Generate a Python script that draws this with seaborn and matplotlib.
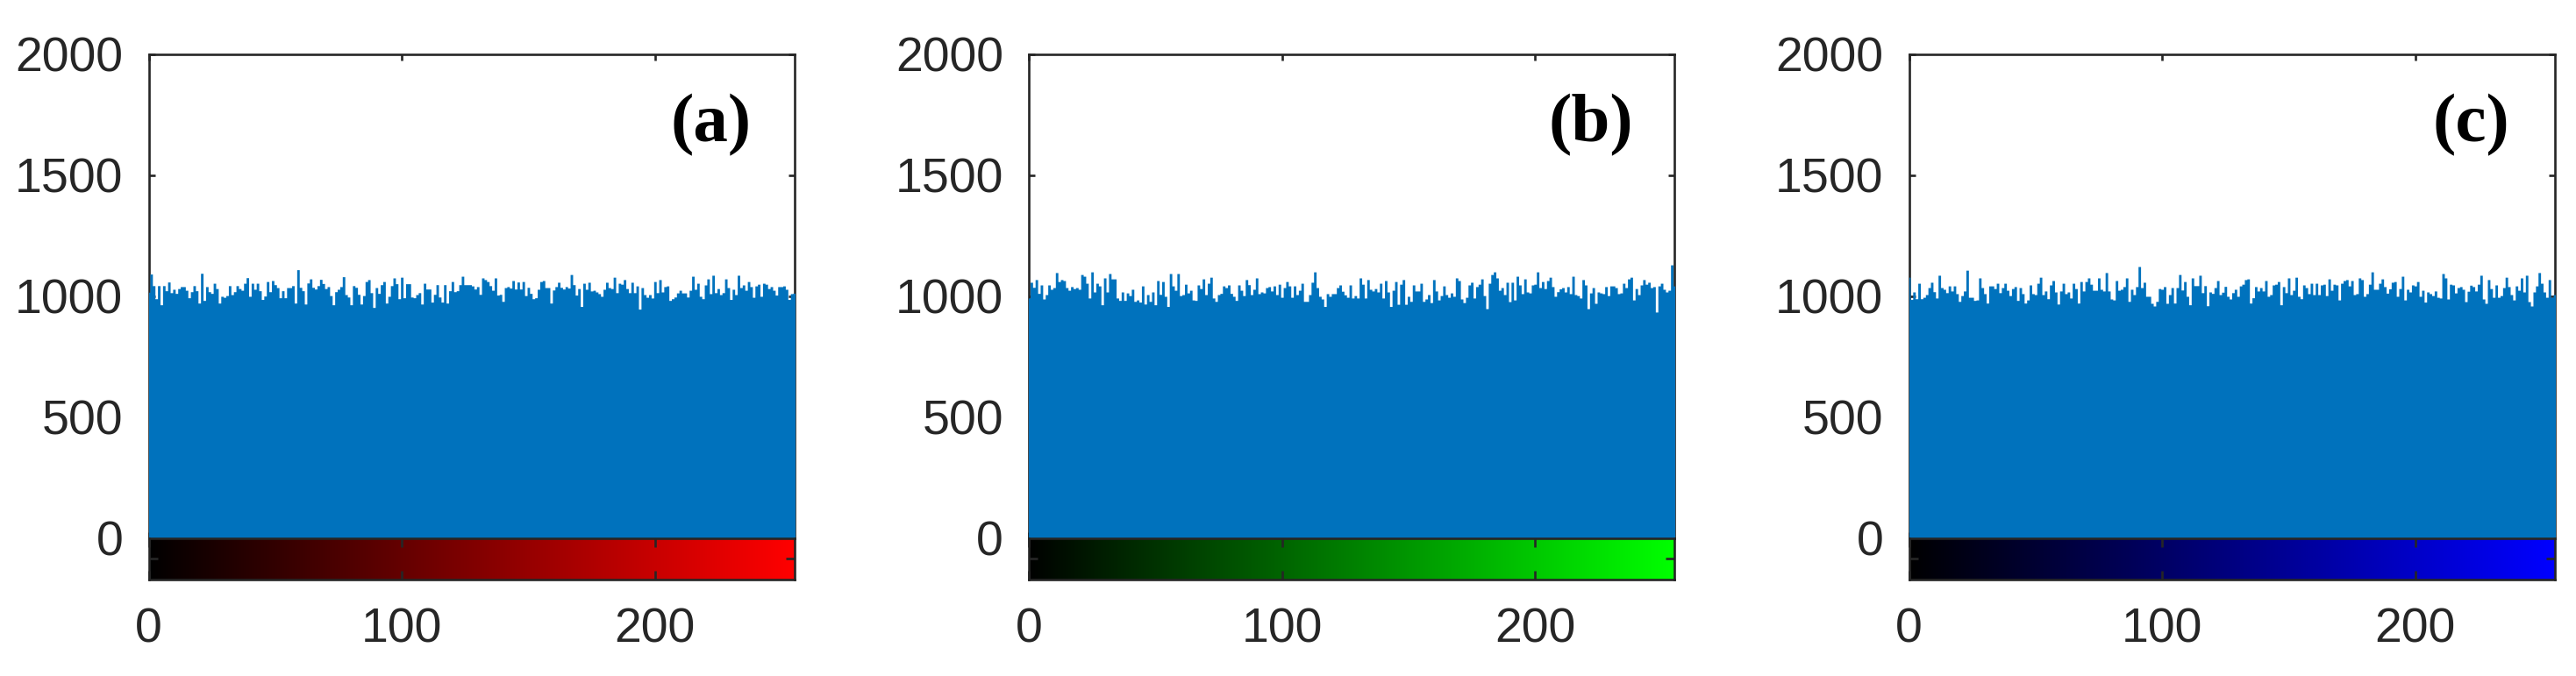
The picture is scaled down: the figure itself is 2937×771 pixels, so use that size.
import numpy as np
import matplotlib.pyplot as plt
import seaborn as sns

sns.set_style('ticks')
plt.rcParams['font.family'] = ['Liberation Sans', 'DejaVu Sans']

# pixel value 0..255 and histogram counts
levels = np.arange(256)

counts_r = [1016,
    1091, 1043, 989, 1043, 964, 1043, 1022, 1058, 1014, 1028,
    1011, 1031, 1039, 1039, 1024, 993, 1018, 1043, 1022, 971,
    1094, 982, 1039, 1018, 1011, 1053, 1031, 971, 999, 995,
    1002, 1043, 1006, 1018, 1043, 1031, 1024, 1053, 1076, 999,
    1053, 1028, 1053, 1022, 986, 1000, 1060, 1018, 1064, 1047,
    1035, 993, 1022, 993, 1035, 1035, 1043, 971, 1109, 1036,
    1022, 967, 1054, 1071, 1036, 1029, 1043, 1069, 1052, 1031,
    1039, 1002, 964, 1018, 1028, 1039, 1080, 1006, 996, 964,
    1043, 1036, 1007, 967,
    1002, 1060, 1068, 1014, 953, 1035, 1011, 1047, 1060, 971,
    999, 1043, 1075, 1051, 989, 1078, 993, 1051, 1051, 996,
    993, 1006, 1014, 967, 1053, 1029, 1029, 975, 1007, 1047,
    996, 975, 1047, 971, 1022, 1060, 1018, 1022, 1047, 1082,
    1047, 1047, 1047, 1042, 1029, 1039, 1007, 1075, 1068, 1060,
    1043, 1024, 1075, 1004, 1007, 978, 1035, 1039, 1033, 1064,
    1029, 1058, 1029, 1060, 1002, 1036, 1011, 989, 993, 1028,
    1060, 1064, 1035, 1035, 971, 1025, 1039, 1057, 1036, 1029,
    1039, 1033, 1089, 1047,
    1004, 1031, 957, 1053, 1028, 1057, 1021, 1024, 1017, 1010,
    999, 1028, 1057, 1035, 1031, 1078, 1014, 1053, 1049, 1068,
    1031, 1014, 1057, 1014, 1042, 946, 1035, 1006, 995, 1006,
    992, 1060, 1014, 1068, 1017, 1039, 1042, 982, 989, 996,
    1013, 1024, 1013, 1013, 996, 1024, 1082, 1028, 1053, 999,
    989, 1046, 1071, 1010, 1086, 1014, 1031, 1006, 1014, 1071,
    1035, 986, 1028, 1006, 1086, 1035, 1046, 1024, 1060, 1039,
    995, 1042, 1049, 999, 1053, 1049, 1031, 1039, 1024, 1004,
    1039, 1039, 1042, 1028, 986, 1010, 1012]

counts_g = [992,
    1057, 1036, 1068, 1011, 1046, 988, 1006, 1046, 1028, 1035,
    1097, 1060, 1068, 1064, 1035, 1024, 1039, 1031, 1035, 1028,
    1089, 1082, 1053, 992, 1100, 1017, 1053, 1042, 964, 1075,
    1017, 1093, 1071, 1071, 992, 982, 1017, 982, 1013, 1002,
    1028, 978, 984, 975, 1042, 967, 1006, 978, 1017, 964,
    1064, 1007, 1060, 999, 957, 1093, 1042, 1024, 1093, 1002,
    1006, 1049, 1013, 1024, 984, 982, 1046, 1031, 1071, 1006,
    1053, 1078, 992, 978, 1006, 1011, 1042, 1035, 1046, 1011,
    999, 982, 1046,
    1024, 1002, 1068, 1047, 1006, 1028, 1075, 1010, 1017, 1013,
    1035, 1039, 1021, 1042, 1006, 1049, 995, 1035, 1060, 1042,
    995, 1042, 1006, 1024, 1053, 978, 978, 1006, 1057, 1100,
    1035, 999, 988, 957, 1010, 999, 1010, 1010, 1035, 1046,
    1020, 1005,
    995, 1046, 992, 1002, 992, 1075, 1049, 992, 1068, 1028,
    1021, 1031, 1017, 1053, 992, 1064, 1017, 957, 1024, 1060,
    966, 1049, 1068, 966, 999, 978, 1046, 1021, 1021, 1053,
    978, 988, 1006, 973, 1068, 1021, 984, 1002, 1042, 1006,
    995, 1013, 999,
    1075, 1064, 988, 973, 995, 1046, 1057, 992, 1039, 1049,
    1071, 1002, 948, 1053, 1089, 1100, 1075, 1024, 1035, 1006,
    1057, 977, 1057, 984, 1082, 1046, 1010, 1071, 1017, 1013,
    1046, 1049, 1100, 1035, 1060, 1031, 1064, 1078, 1039, 999,
    1018, 1030,
    1035, 1017, 1039, 1010, 1082, 1006, 1002, 992, 1068, 1046,
    948, 1013, 1035, 970, 1017, 1013, 1010, 1039, 1002, 1042,
    1042, 1035, 1010, 1013, 1053, 1035, 1071, 1078, 984, 1031,
    1006, 1046, 1068, 1049, 1057, 1035, 1039, 934, 1042, 1053,
    1028, 1017, 1024, 1129, 1042]

counts_b = [1078,
    986, 1017, 989, 1053, 989, 995, 1006, 1035, 1057, 1018,
    992, 1086, 1035, 1028, 1014, 1042, 1021, 1042, 1010, 978,
    1002, 1021, 1107, 995, 995, 982, 984, 1075, 1035, 1010,
    971, 1042, 1042, 1031, 1053, 1014, 1035, 1053, 1024, 1002,
    1031, 1039, 982, 1035, 1010, 971, 984, 1046, 1010, 1006,
    1053, 1078, 1006, 1021, 989, 1046, 1064, 1017, 967, 1021,
    1053, 1010, 1017, 992, 1053, 1031, 971, 1060, 1021, 1060,
    1075, 1049, 1024, 1024, 1075, 1028, 1021, 1097, 1021, 988,
    984, 1064, 1024,
    1028, 1039, 1075, 978, 1028, 1006, 1039, 1122, 1035, 1057,
    999, 999, 970, 959, 978, 1031, 1028, 1039, 970, 1006,
    1035, 971, 1035, 1089, 1025, 1060, 999, 964, 1075, 1043,
    1043, 1086, 1014, 1043, 960, 1017, 1011, 1035, 1064, 1006,
    1016, 1040,
    999, 988, 1014, 1028, 999, 1042, 1049, 1068, 1071, 971,
    993, 1039, 1021, 1035, 1021, 1064, 999, 1006, 1046, 1049,
    1060, 964, 1039, 1014, 1075, 1006, 1024, 1078, 999, 989,
    1046, 1035, 1010, 1053, 1006, 1053, 1006, 1046, 1049, 1002,
    1071, 1024, 1049,
    1046, 984, 1053, 1064, 1068, 1042, 1064, 1006, 1010, 1075,
    1068, 999, 1010, 1049, 1100, 1028, 1028, 1053, 1071, 1039,
    1012, 1030,
    1057, 1060, 999, 1031, 1082, 984, 1028, 1017, 1046, 1042,
    1060, 999, 1024, 975, 1017, 1010, 1002, 1021, 995, 992,
    1093, 1075, 988, 1049, 1046, 1013, 1035, 1039, 1028, 977,
    1020, 1045,
    1039, 1021, 1049, 1086, 988, 970, 1068, 1031, 995, 1046,
    995, 1002, 1035, 1078, 1039, 1006, 984, 1042, 1024, 1075,
    1017, 1086, 977, 959, 1017, 1042, 1097, 1053, 1017, 995,
    1068, 995, 1006]

all_counts = [counts_r, counts_g, counts_b]
panel_labels = ['(a)', '(b)', '(c)']
channel_rgb = [(1, 0, 0), (0, 1, 0), (0, 0, 1)]
yticks = [0, 500, 1000, 1500, 2000]
xticks = [0, 100, 200]

bar_color = '#0072BD'
ink = '#262626'

W, H = 2937, 771
fig = plt.figure(figsize=(W / 100, H / 100), dpi=100)

lefts = [169.5, 1173, 2176.5]
width = 736
top_y, zero_y, bot_y = 61.7, 613.7, 661

for i in range(3):
    left = lefts[i]
    ax = fig.add_axes([left / W, 1 - zero_y / H, width / W, (zero_y - top_y) / H])
    cax = fig.add_axes([left / W, 1 - bot_y / H, width / W, (bot_y - zero_y) / H])

    sns.histplot(x=levels, weights=all_counts[i], discrete=True, element='step',
                 fill=True, color=bar_color, alpha=1, linewidth=0, ax=ax, zorder=3)
    ax.set_xlim(0, 255)
    ax.set_ylim(0, 2000)
    ax.set_xticks(xticks)
    ax.set_yticks(yticks)
    ax.set_xlabel('')
    ax.set_ylabel('')
    ax.tick_params(direction='in', length=5.3, width=1.9, top=True, right=True,
                   colors=ink, labelsize=40, pad=21, labelbottom=False)
    ax.text(222, 1705, panel_labels[i], fontfamily='Liberation Serif',
            fontweight='bold', fontsize=57, ha='center', va='center', color='k')

    # colour strip under the histogram
    img = np.zeros((1, len(levels), 3))
    for c in range(3):
        img[0, :, c] = levels / 255 * channel_rgb[i][c]
    cax.imshow(img, extent=(-0.5, 255.5, 0.5, 1.5), aspect='auto',
               interpolation='nearest')
    cax.set_xlim(0, 255)
    cax.set_ylim(0.5, 1.5)
    cax.set_xticks(xticks)
    cax.set_yticks([1])
    cax.tick_params(direction='in', length=7, width=1.9, top=True, right=True,
                    colors=ink, labelsize=40, pad=23, labelleft=False)

    for a in (ax, cax):
        for s in a.spines.values():
            s.set_visible(True)
            s.set_linewidth(1.9)
            s.set_color(ink)

fig.savefig('out.png', dpi=100)
